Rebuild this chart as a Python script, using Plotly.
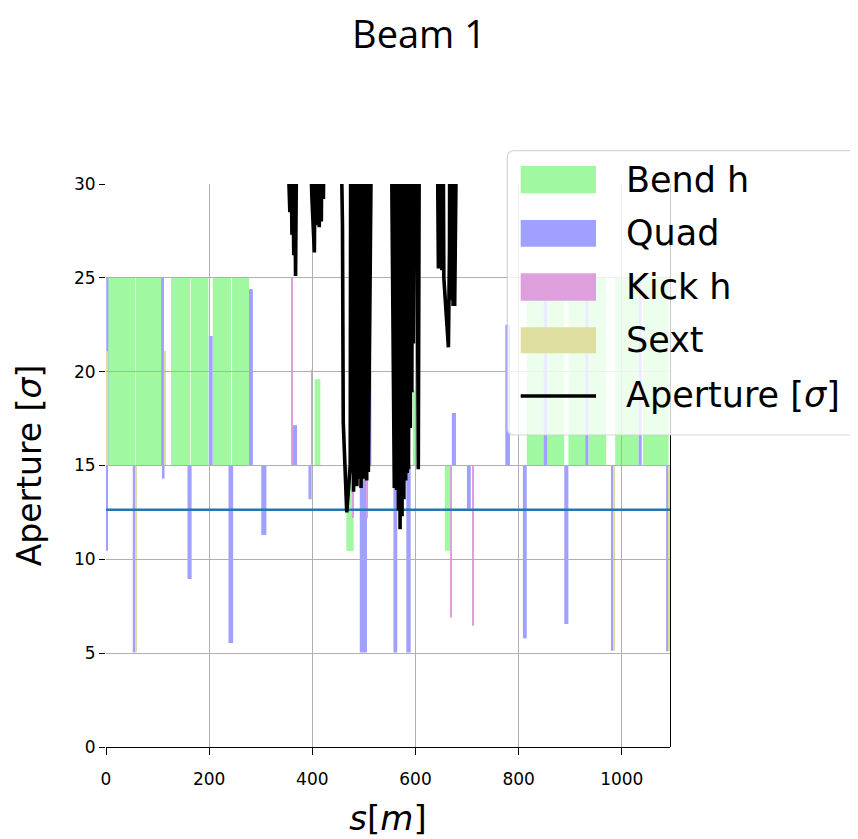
import plotly.graph_objects as go

# ---------------- data ----------------
BASE = 15.0          # reference level of the element bars
REF_LEVEL = 12.64    # horizontal reference line
X_MAX = 1093.5
Y_MAX = 30
X_TICKS = [0, 200, 400, 600, 800, 1000]
Y_TICKS = [0, 5, 10, 15, 20, 25, 30]

bend_s = [29.35, 82.6, 144.5, 181.35, 224.7, 260.85, 410.0, 473.0, 598.3, 662.5,
          832.0, 872.1, 912.8, 952.6, 1009.8, 1065.8]
bend_len = [53.7, 50.8, 37.0, 34.1, 35.4, 32.9, 11.0, 14.0, 6.6, 11.0,
            32.2, 32.4, 32.4, 34.3, 45.2, 49.7]
bend_h = [10, 10, 10, 10, 10, 10, 4.6, -4.55, 4.0, -4.55,
          10, 10, 10, 10, 10, 10]

quad_s = [2.5, 2.0, 54.3, 109.6, 111.0, 162.0, 203.0, 242.0, 281.0, 306.0,
          366.5, 395.6, 499.0, 512.0, 561.0, 586.5, 674.5, 703.5, 778.7, 812.0,
          852.0, 892.5, 932.2, 981.5, 1035.7, 1088.3]
quad_len = [4, 3.5, 5, 5.5, 5, 8, 7.5, 9, 7.5, 10,
            8, 6, 14, 5, 7.5, 8.5, 8, 7.5, 9, 7.5,
            7.5, 8, 6, 5, 6, 4.5]
quad_h = [10, -4.54, -9.96, 10, -0.7, -6.05, 6.9, -9.46, 9.4, -3.7,
          2.15, -1.8, -9.96, 5.0, -9.96, -9.96, 2.8, -2.3, 7.5, -9.2,
          10, -8.45, 10, -9.87, 10, -9.9]

kick_s = [361.3, 400.1, 479.6, 506.8, 668.5, 711.5]
kick_len = [2, 2, 2, 2, 2, 3]
kick_h = [10, 5.1, -2.8, -2.8, -8.1, -8.54]

sext_s = [2.0, 57.5, 113.5, 984.5, 1091.5]
sext_len = [2, 2, 2, 2.5, 2.5]
sext_h = [6.1, -9.96, 6.1, -9.87, -9.9]

aper_s = [350, 356.5, 358, 360.5, 361.5, 364, 365, 367.5, 370,
          395, 399, 404, 406, 409.5, 411, 413.5, 415, 417.5, 419, 421.5, 423,
          455, 458.5, 460, 466.8, 473.5, 474.5,
          477, 478.5, 480, 482, 484, 485, 486.5, 488.5, 491, 492, 494.5, 496.5,
          499, 500.5, 503, 504, 505.5, 507, 508.7, 515,
          553, 555.5, 559, 560.5, 563.5, 564.5, 567, 568, 570.2, 572, 574, 575.5,
          577.5, 579, 581, 582.5, 584, 585.5, 586.5, 588, 590, 591, 593, 594,
          596, 597, 598, 598.6,
          602.5, 605.5, 607.5,
          642, 644.5, 648, 651, 653.5, 655, 659, 663.9, 666, 666.5, 669, 670.5,
          673, 674.5, 676, 678, 680]
aper_v = [34, 28.5, 34, 27.3, 34, 26.2, 34, 25.1, 34,
          34, 29.4, 26.35, 34, 27.8, 34, 27.7, 34, 28.0, 34, 29.2, 34,
          34, 27.8, 17.3, 12.5, 15.0, 34,
          14.6, 34, 13.6, 34, 14.2, 34, 13.9, 34, 14.3, 34, 13.8, 34,
          14.3, 34, 14.4, 34, 14.2, 34, 14.65, 34,
          34, 23.0, 13.8, 34, 13.7, 34, 12.6, 34, 11.6, 34, 12.3, 34,
          13.2, 34, 14.2, 34, 14.6, 34, 14.8, 34, 17.0, 34, 18.9, 34,
          21.5, 34, 26.0, 34,
          34, 14.8, 34,
          34, 25.5, 34, 25.4, 34, 25.0, 23.6, 21.3, 26.6, 34, 23.8, 34,
          23.5, 34, 23.5, 28.0, 34]

legend_labels = ["Bend h", "Quad", "Kick h", "Sext", "Aperture [<i>σ</i>]"]

# ---------------- style ----------------
C_BEND = "#a0f8a0"
C_QUAD = "#a0a0ff"
C_KICK = "#dda0dd"
C_SEXT = "#dedea0"
C_REF = "#1f77b4"
GRID = "#b0b0b0"
FONT = "DejaVu Sans"

fig = go.Figure()


def add_bars(s, L, h, color):
    fig.add_trace(go.Bar(x=s, y=h, width=L, base=BASE,
                         marker=dict(color=color, line=dict(width=0)),
                         xaxis="x", yaxis="y", showlegend=False,
                         hoverinfo="skip"))


add_bars(bend_s, bend_len, bend_h, C_BEND)
add_bars(quad_s, quad_len, quad_h, C_QUAD)
add_bars(kick_s, kick_len, kick_h, C_KICK)
add_bars(sext_s, sext_len, sext_h, C_SEXT)

# lines live on a second subplot with the same domain -> grid above bars, below lines
fig.add_trace(go.Scatter(x=[0, X_MAX], y=[REF_LEVEL, REF_LEVEL], mode="lines",
                         line=dict(color=C_REF, width=2.5),
                         xaxis="x2", yaxis="y2", showlegend=False))
fig.add_trace(go.Scatter(x=aper_s, y=aper_v, mode="lines",
                         line=dict(color="black", width=3.6),
                         xaxis="x2", yaxis="y2", showlegend=False))

# ---------------- layout ----------------
OFF = 8                      # page body margin
W, H = 850, 831
ML, MT = 106 - OFF, 184 - OFF
PW, PH = 564, 563
MR, MB = W - ML - PW, H - MT - PH


def xp(px):
    return (px - OFF - ML) / PW


def yp(py):
    return (H - MB - (py - OFF)) / PH


fig.update_layout(
    width=W, height=H,
    margin=dict(l=ML, r=MR, t=MT, b=MB, pad=0),
    plot_bgcolor="rgba(0,0,0,0)", paper_bgcolor="white",
    barmode="overlay", showlegend=False,
    font=dict(family=FONT, color="black"),
    title=dict(text="Beam 1", x=(419 - OFF) / W, xanchor="center",
               y=1 - (35 - OFF) / H, yanchor="middle",
               font=dict(family="Open Sans", size=38, color="black")),
    xaxis=dict(domain=[0, 1], anchor="y", range=[0, X_MAX], automargin=False,
               tickmode="array", tickvals=X_TICKS,
               ticktext=[str(t) for t in X_TICKS],
               ticks="outside", ticklen=7, tickwidth=1.3, tickcolor="black",
               ticklabelstandoff=9,
               showline=True, linecolor="black", linewidth=1.3,
               showgrid=False, zeroline=False,
               tickfont=dict(size=17, family=FONT),
               title=dict(text="<i>s</i>[<i>m</i>]", standoff=18,
                          font=dict(size=34, family=FONT))),
    yaxis=dict(domain=[0, 1], anchor="x", range=[0, Y_MAX], automargin=False,
               tickmode="array", tickvals=Y_TICKS,
               ticktext=[str(t) for t in Y_TICKS],
               ticks="outside", ticklen=6, tickwidth=1.3, tickcolor="black",
               showline=False, showgrid=False, zeroline=False,
               tickfont=dict(size=17, family=FONT),
               title=dict(text="Aperture [<i>σ</i>]", standoff=22,
                          font=dict(size=33, family=FONT))),
    xaxis2=dict(domain=[0, 1], anchor="y2", range=[0, X_MAX], automargin=False,
                tickmode="array", tickvals=X_TICKS,
                showticklabels=False, ticks="", showline=False,
                showgrid=True, gridcolor=GRID, gridwidth=1.1, zeroline=False),
    yaxis2=dict(domain=[0, 1], anchor="x2", range=[0, Y_MAX], side="right",
                automargin=False,
                tickmode="array", tickvals=Y_TICKS,
                showticklabels=False, ticks="",
                showline=True, linecolor="black", linewidth=1.3,
                showgrid=True, gridcolor=GRID, gridwidth=1.1, zeroline=False),
)

# ---------------- legend (drawn by hand, matplotlib-like) ----------------
Lx, Rx, Ty, By = xp(507.3), xp(900), yp(150.7), yp(435)
rx, ry = 7 / PW, 7 / PH
path = (f"M {Lx + rx},{Ty} L {Rx},{Ty} L {Rx},{By} L {Lx + rx},{By} "
        f"Q {Lx},{By} {Lx},{By + ry} L {Lx},{Ty - ry} Q {Lx},{Ty} {Lx + rx},{Ty} Z")
shapes = [dict(type="path", path=path, xref="paper", yref="paper",
               fillcolor="rgba(255,255,255,0.8)",
               line=dict(color="rgba(204,204,204,0.8)", width=1.2),
               layer="above")]

patch_rows = [(166, 193.3, C_BEND), (220, 246.7, C_QUAD),
              (273.3, 300.7, C_KICK), (327.3, 353.3, C_SEXT)]
for top, bot, col in patch_rows:
    shapes.append(dict(type="rect", xref="paper", yref="paper",
                       x0=xp(520.7), x1=xp(596), y0=yp(bot), y1=yp(top),
                       fillcolor=col, line=dict(width=0), layer="above"))
shapes.append(dict(type="line", xref="paper", yref="paper",
                   x0=xp(520.7), x1=xp(596), y0=yp(396), y1=yp(396),
                   line=dict(color="black", width=3.5), layer="above"))

text_rows = [179.7, 233.3, 287.0, 340.3, 394.5]
annotations = []
for lab, py in zip(legend_labels, text_rows):
    annotations.append(dict(text=lab, xref="paper", yref="paper",
                            x=xp(624), y=yp(py), xanchor="left",
                            yanchor="middle", showarrow=False,
                            font=dict(size=35, family=FONT, color="black")))

fig.update_layout(shapes=shapes, annotations=annotations)

fig.write_html("out.html")
